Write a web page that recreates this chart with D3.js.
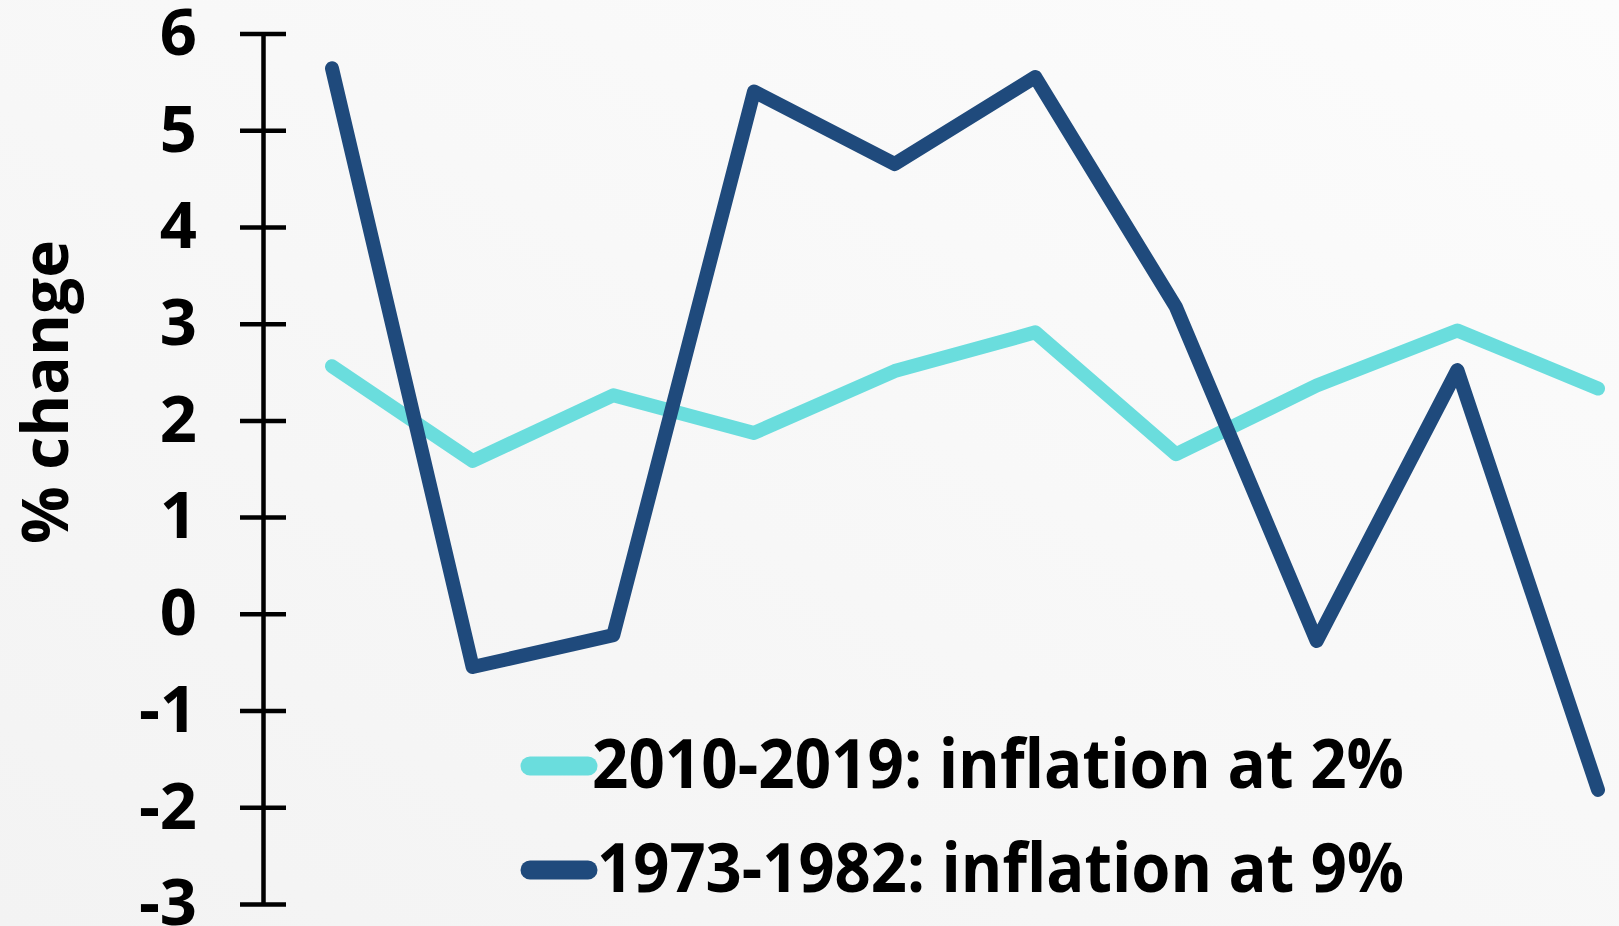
<!DOCTYPE html>
<html>
<head>
<meta charset="utf-8">
<script src="https://cdn.jsdelivr.net/npm/d3@7"></script>
<style>
  html, body { margin: 0; padding: 0; background: #f6f6f6; }
  svg { display: block; font-family: "Open Sans", "Noto Sans", sans-serif; font-weight: 700; }
</style>
</head>
<body>
<div id="chart"></div>
<script>
var width = 1619,
    height = 926;

// year of each decade (1st .. 10th)
var years = [1, 2, 3, 4, 5, 6, 7, 8, 9, 10];
var recent = [2.56, 1.58, 2.26, 1.87, 2.51, 2.91, 1.65, 2.36, 2.93, 2.33];
var seventies = [5.64, -0.55, -0.22, 5.40, 4.65, 5.55, 3.17, -0.28, 2.52, -1.82];
var yTicks = [-3, -2, -1, 0, 1, 2, 3, 4, 5, 6];
var seriesNames = ["2010-2019: inflation at 2%", "1973-1982: inflation at 9%"];
var seriesColors = ["#6adddd", "#1f4a7c"];

var svg = d3.select("#chart").append("svg")
    .attr("width", width)
    .attr("height", height);

var grad = svg.append("defs").append("linearGradient")
    .attr("id", "bg")
    .attr("x1", "0%").attr("y1", "100%")
    .attr("x2", "100%").attr("y2", "0%");
grad.append("stop").attr("offset", "0%").attr("stop-color", "#f3f3f3");
grad.append("stop").attr("offset", "100%").attr("stop-color", "#fcfcfc");

svg.append("rect")
    .attr("width", width)
    .attr("height", height)
    .attr("fill", "url(#bg)");

var x = d3.scaleLinear()
    .domain([1, 10])
    .range([332, 1598]);

var y = d3.scaleLinear()
    .domain([-3, 6])
    .range([904, 33.5]);

// y axis, ticks cross the line; plain hyphen for negatives like the original
var yAxis = svg.append("g")
    .attr("transform", "translate(263,0)")
    .call(d3.axisLeft(y).tickValues(yTicks).tickSize(0).tickPadding(66).tickFormat(function(d) { return String(d); }));

yAxis.select(".domain")
    .attr("stroke", "#000")
    .attr("stroke-width", 4.5);

yAxis.selectAll(".tick line")
    .attr("x1", -23)
    .attr("x2", 23)
    .attr("stroke", "#000")
    .attr("stroke-width", 4.5);

yAxis.selectAll(".tick text")
    .attr("fill", "#000")
    .attr("dy", "0.32em")
    .style("font-size", "65px")
    .style("font-weight", 700)
    .style("font-family", "'Open Sans', sans-serif");

svg.append("text")
    .attr("transform", "translate(68,392) rotate(-90)")
    .attr("text-anchor", "middle")
    .style("font-size", "64px")
    .text("% change");

var line = d3.line()
    .x(function(d, i) { return x(years[i]); })
    .y(function(d) { return y(d); });

[recent, seventies].forEach(function(s, i) {
  svg.append("path")
    .datum(s)
    .attr("d", line)
    .attr("fill", "none")
    .attr("stroke", seriesColors[i])
    .attr("stroke-width", 14)
    .attr("stroke-linecap", "round")
    .attr("stroke-linejoin", "round");
});

// legend
var legendY = [766, 870],
    legendW = [812, 807],
    legendX = [592, 597];

var legend = svg.append("g");

seriesNames.forEach(function(name, i) {
  legend.append("line")
    .attr("x1", 530).attr("x2", 588)
    .attr("y1", legendY[i]).attr("y2", legendY[i])
    .attr("stroke", seriesColors[i])
    .attr("stroke-width", 19)
    .attr("stroke-linecap", "round");

  legend.append("text")
    .attr("x", legendX[i])
    .attr("y", legendY[i] + 22)
    .attr("textLength", legendW[i])
    .attr("lengthAdjust", "spacingAndGlyphs")
    .style("font-size", "68px")
    .text(name);
});
</script>
</body>
</html>
